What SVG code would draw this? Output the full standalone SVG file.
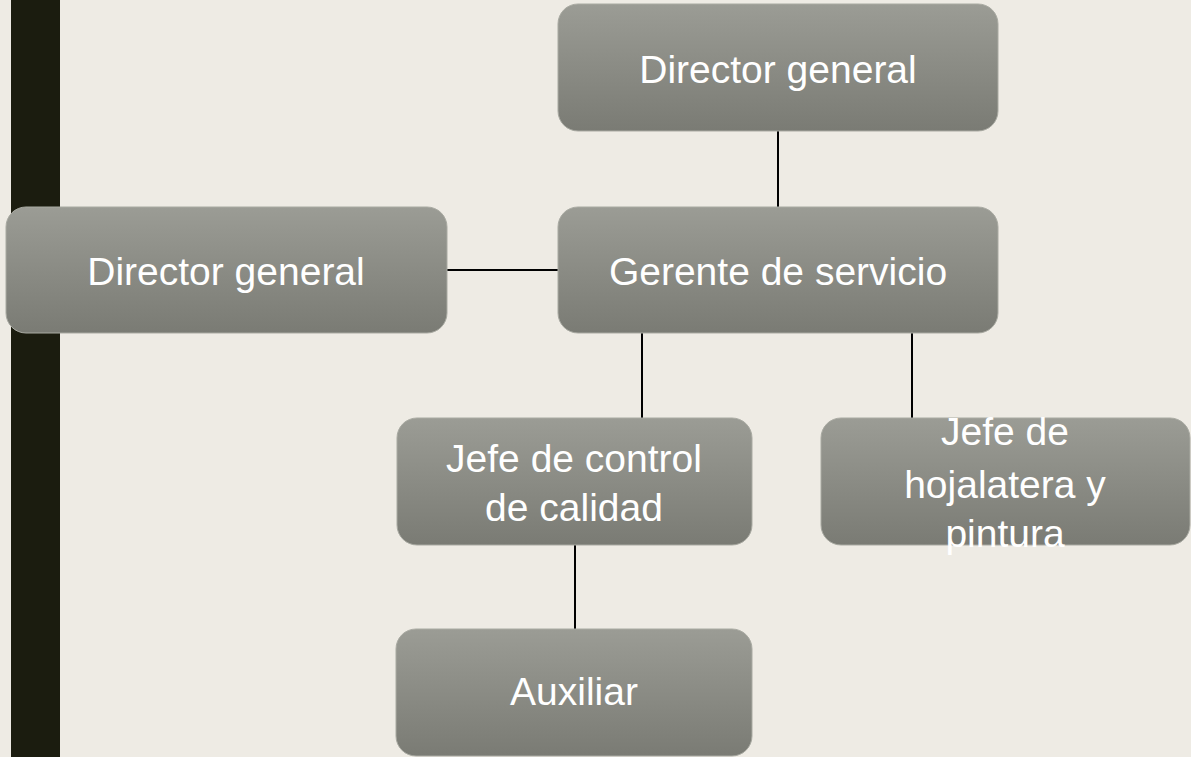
<svg xmlns="http://www.w3.org/2000/svg" width="1191" height="757" viewBox="0 0 1191 757">
<style>
.box{fill:url(#g);stroke:#a9aaa2;stroke-width:1}
.t{font-family:"Liberation Sans",Arial,sans-serif;font-size:39px;fill:#ffffff;text-anchor:middle}
.c{stroke:#000;stroke-width:2;fill:none}
</style>
<defs>
<linearGradient id="g" x1="0" y1="0" x2="0" y2="1">
<stop offset="0" stop-color="#9b9c95"/>
<stop offset="1" stop-color="#7a7b74"/>
</linearGradient>
</defs>
<rect x="0" y="0" width="1191" height="757" fill="#eeebe4"/>
<rect x="11" y="0" width="49" height="757" fill="#1b1c0f"/>
<g id="connectors">
<line class="c" x1="778" y1="131" x2="778" y2="207"/>
<line class="c" x1="447" y1="270" x2="558" y2="270"/>
<line class="c" x1="642" y1="333" x2="642" y2="418"/>
<line class="c" x1="912" y1="333" x2="912" y2="418"/>
<line class="c" x1="575" y1="545" x2="575" y2="629"/>
</g>
<g id="director-top">
<rect class="box" x="558" y="4" width="440" height="127" rx="20"/>
<text class="t" x="778" y="83">Director general</text>
</g>
<g id="director-left">
<rect class="box" x="6" y="207" width="441" height="126" rx="20"/>
<text class="t" x="226" y="285">Director general</text>
</g>
<g id="gerente">
<rect class="box" x="558" y="207" width="440" height="126" rx="20"/>
<text class="t" x="778" y="285">Gerente de servicio</text>
</g>
<g id="jefe-calidad">
<rect class="box" x="397" y="418" width="355" height="127" rx="20"/>
<text class="t" x="574" y="472">Jefe de control</text>
<text class="t" x="574" y="521">de calidad</text>
</g>
<g id="jefe-hojalatera">
<rect class="box" x="821" y="418" width="369" height="127" rx="20"/>
<text class="t" x="1005" y="445">Jefe de</text>
<text class="t" x="1005" y="498">hojalatera y</text>
<text class="t" x="1005" y="547">pintura</text>
</g>
<g id="auxiliar">
<rect class="box" x="396" y="629" width="356" height="127" rx="20"/>
<text class="t" x="574" y="705">Auxiliar</text>
</g>
</svg>
